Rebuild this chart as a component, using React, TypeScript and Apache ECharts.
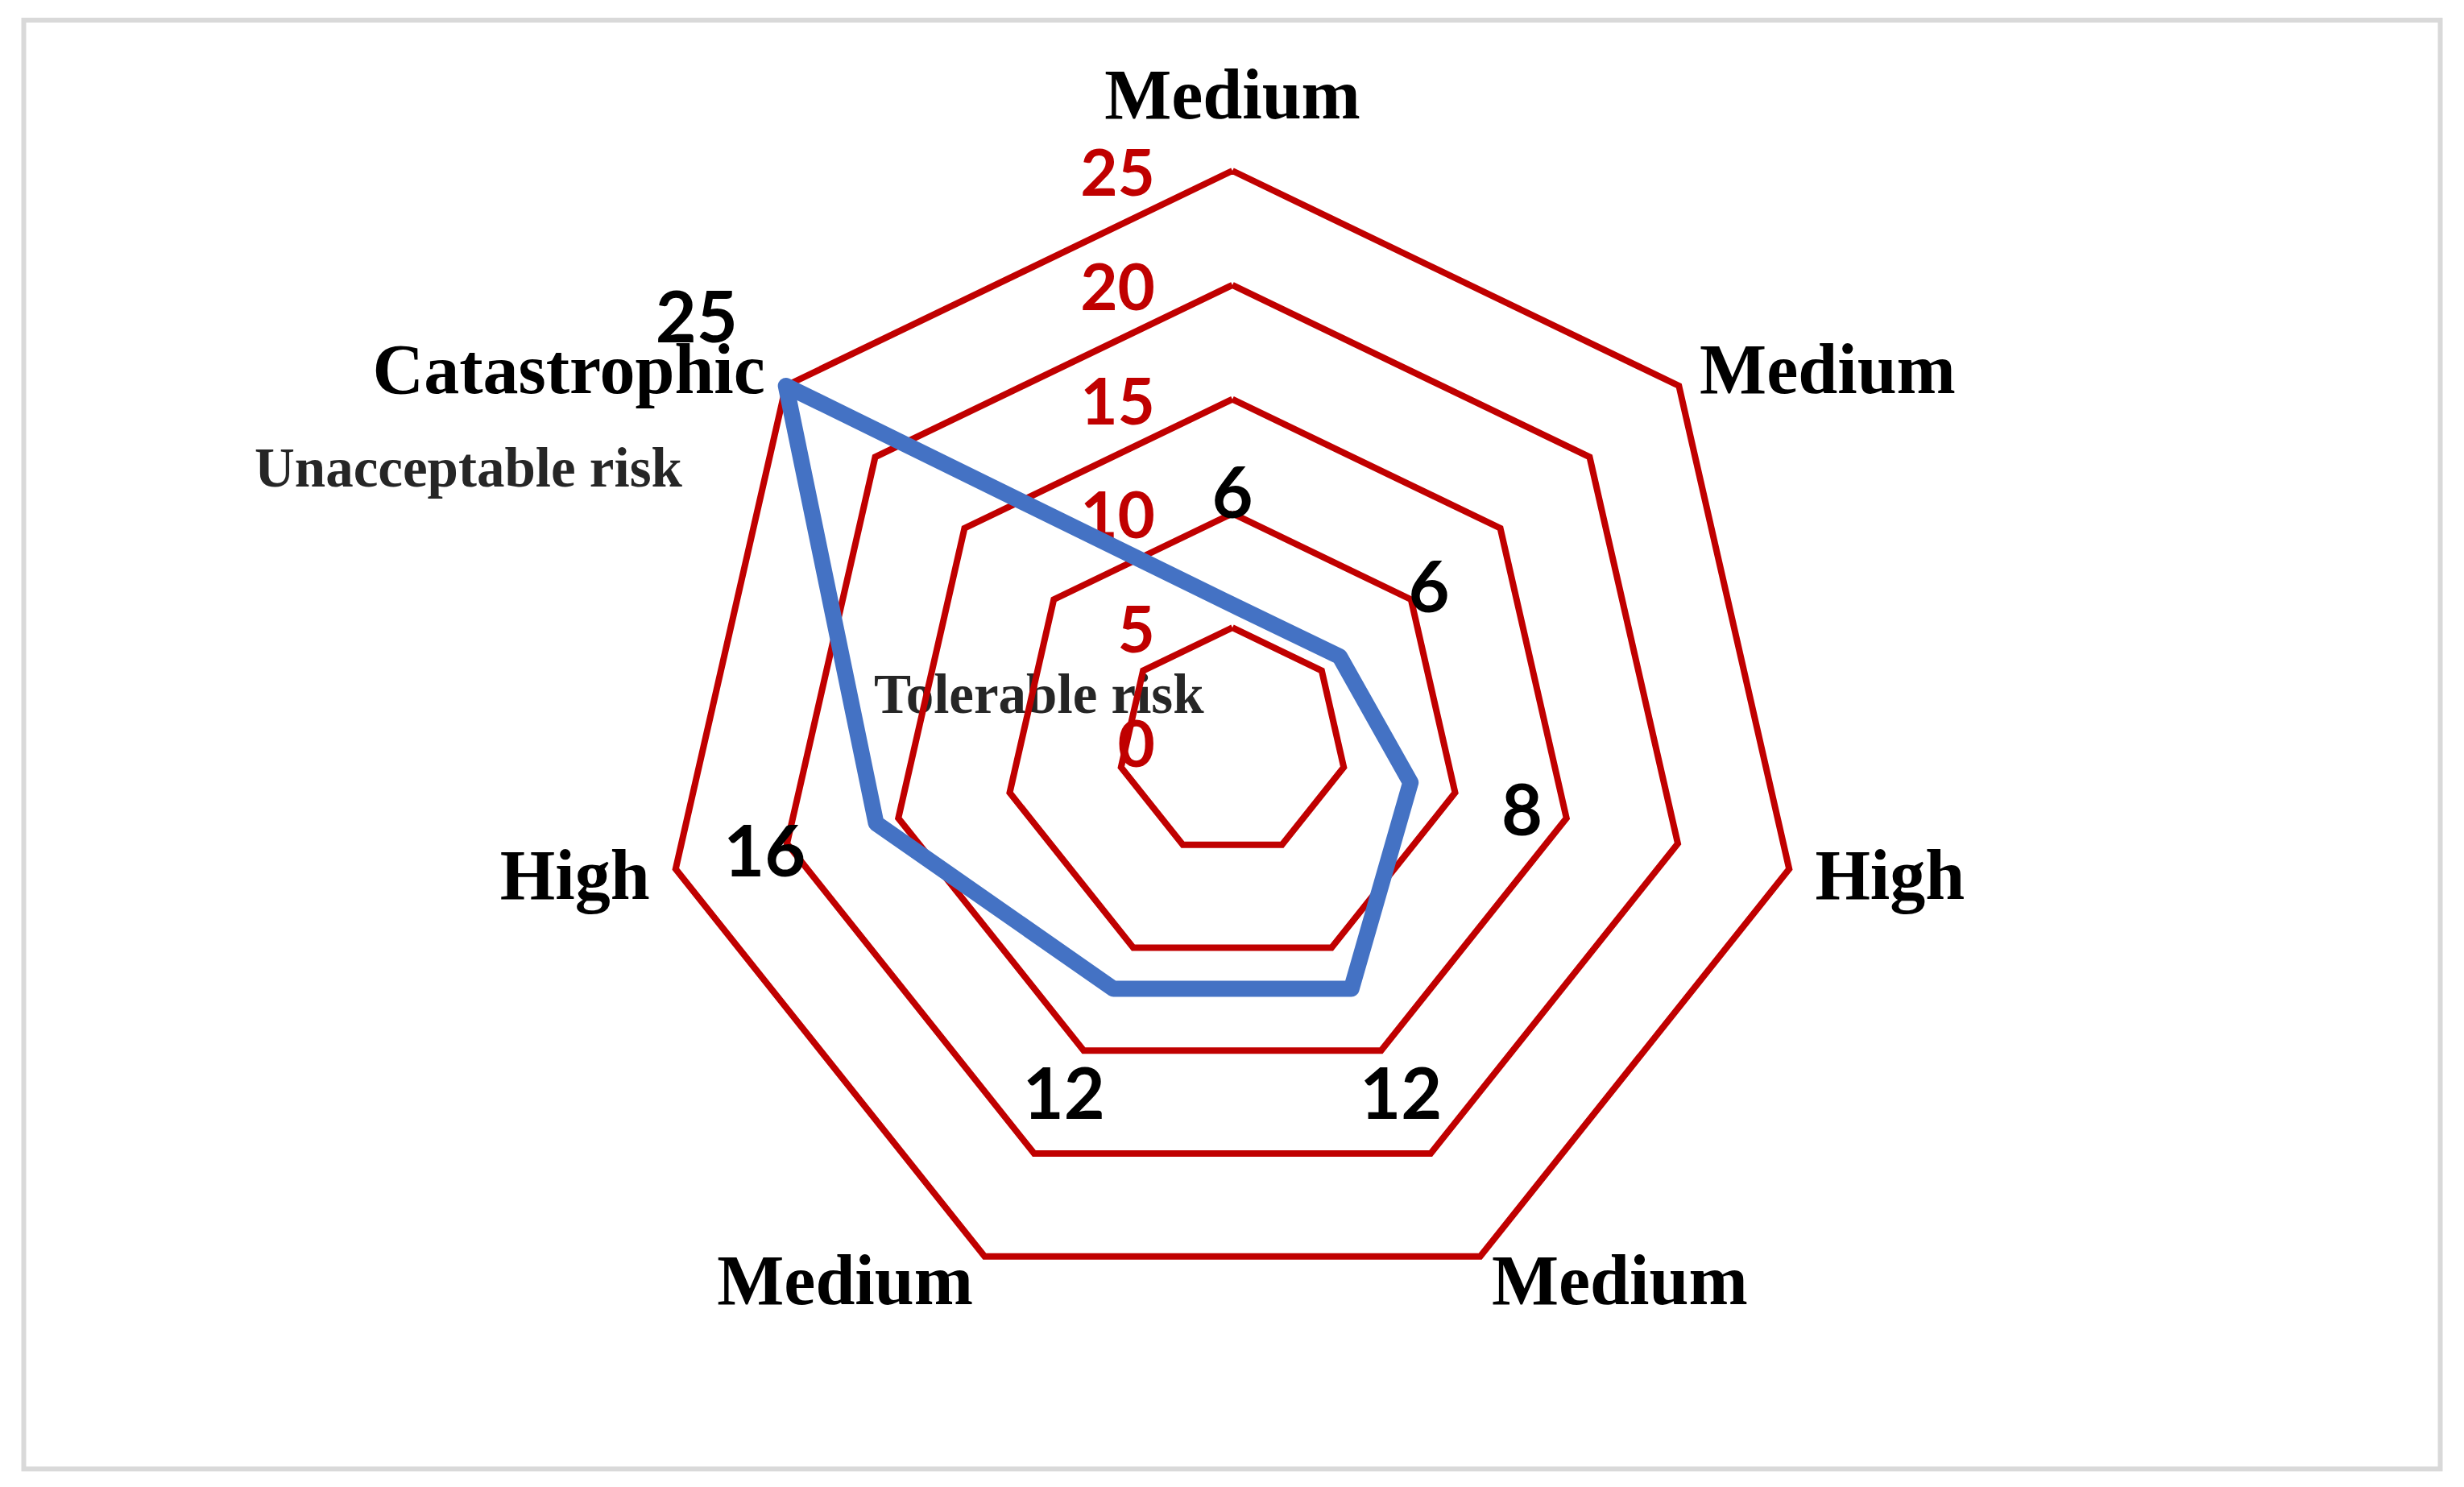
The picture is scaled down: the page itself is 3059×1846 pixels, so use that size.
import React, { useEffect, useRef } from "react";
import * as echarts from "echarts";

// Indicators in drawing order (top first, then counter-clockwise as ECharts lays them out)
const categories = ["Medium", "Catastrophic", "High", "Medium", "Medium", "High", "Medium"];
const riskValues = [6, 25, 16, 12, 12, 8, 6];
const axisMin = 0;
const axisMax = 25;
const splitCount = 5;
// data labels sit this many value-units outward from each point
const labelOffset = 5;
const annotations = [
  { text: "Unacceptable risk", x: 308, y: 573 },
  { text: "Tolerable risk", x: 1077, y: 854 },
];

const RED = "#C00000";
const BLUE = "#4472C4";

export default function App() {
  const ref = useRef<HTMLDivElement>(null);
  useEffect(() => {
    if (!ref.current) return;
    const chart = echarts.init(ref.current, undefined, { renderer: "svg" });
    const redLabel = {
      show: true,
      color: RED,
      fontFamily: "Lato",
      fontWeight: "bold",
      fontSize: 80,
      margin: 96,
    };
    chart.setOption({
      animation: false,
      backgroundColor: "#ffffff",
      radar: {
        center: [1522, 913],
        radius: 709,
        startAngle: 90,
        splitNumber: splitCount,
        shape: "polygon",
        nameGap: 33,
        axisName: {
          color: "#000000",
          fontFamily: "Liberation Serif",
          fontWeight: "bold",
          fontSize: 88,
        },
        axisLine: { show: false },
        axisTick: { show: false },
        axisLabel: { show: false },
        splitLine: { lineStyle: { color: RED, width: 8 } },
        splitArea: { show: false },
        indicator: categories.map((name, i) =>
          i === 0
            ? { name, min: axisMin, max: axisMax, nameGap: 51, axisLabel: redLabel }
            : { name, min: axisMin, max: axisMax }
        ),
      },
      graphic: [
        {
          type: "rect",
          shape: { x: 21.5, y: 17, width: 3000, height: 1798.5 },
          style: { fill: "none", stroke: "#D9D9D9", lineWidth: 6 },
          silent: true,
        },
        ...annotations.map((a) => ({
          type: "text",
          x: a.x,
          y: a.y,
          style: {
            text: a.text,
            fill: "#262626",
            font: "bold 69px 'Liberation Serif'",
            verticalAlign: "middle",
            align: "left",
          },
          silent: true,
        })),
      ],
      series: [
        {
          type: "radar",
          silent: true,
          symbol: "none",
          lineStyle: { color: BLUE, width: 20, join: "round", cap: "round" },
          data: [{ value: riskValues, name: "Risk" }],
          z: 3,
        },
        {
          type: "radar",
          silent: true,
          symbol: "circle",
          symbolSize: 0.1,
          itemStyle: { color: "transparent" },
          lineStyle: { width: 0, opacity: 0 },
          label: {
            show: true,
            position: "inside",
            color: "#000000",
            fontFamily: "Lato",
            fontWeight: "bold",
            fontSize: 88,
            formatter: (p: any) => String(riskValues[p.dimensionIndex]),
          },
          data: [{ value: riskValues.map((v) => v + labelOffset), name: "Labels" }],
          z: 4,
        },
      ],
    });
    return () => chart.dispose();
  }, []);
  return <div ref={ref} style={{ width: 3043, height: 1830 }} />;
}
